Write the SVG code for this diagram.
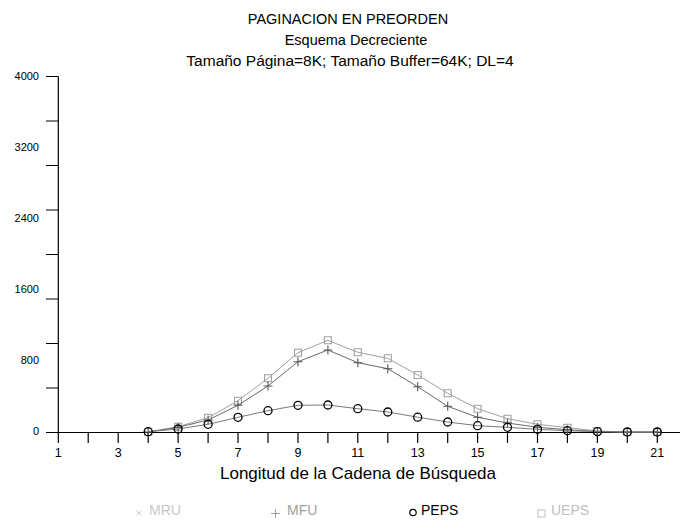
<svg xmlns="http://www.w3.org/2000/svg" xmlns:xlink="http://www.w3.org/1999/xlink" width="680" height="522" viewBox="0 0 680 522">
<style>
text{font-family:"Liberation Sans",Arial,sans-serif;fill:#000}
.ax{stroke:#000;stroke-width:1.2;fill:none}
.yl{font-size:11px;text-anchor:end}
.xl{font-size:12.5px;text-anchor:middle}
.t{text-anchor:middle}
.ueps{stroke:#a0a0a0;stroke-width:1;fill:none}
.mfu{stroke:#6a6a6a;stroke-width:1;fill:none}
.peps{stroke:#7a7a7a;stroke-width:1;fill:none}
.leg{font-size:14px}
</style>
<defs>
<path id="sq" d="M-3.5,-3.5h7v7h-7z" fill="none" stroke="#a0a0a0" stroke-width="1.1"/>
<path id="pl" d="M-4.5,0h9M0,-4.5v9" fill="none" stroke="#555" stroke-width="1.1"/>
<circle id="ci" r="4" fill="none" stroke="#000" stroke-width="1.3"/>
</defs>
<rect width="680" height="522" fill="#fff"/>
<g id="title">
<text class="t" x="348" y="24" font-size="14.5">PAGINACION EN PREORDEN</text>
<text class="t" x="356" y="45" font-size="14.5">Esquema Decreciente</text>
<text class="t" x="350" y="66" font-size="15.5">Tamaño Página=8K; Tamaño Buffer=64K; DL=4</text>
</g>
<g id="axes">
<path class="ax" d="M58.3,76.5V443M46,432.5H680"/>
<path class="ax" d="M46,76.5H58.3M46,121H58.3M46,165.5H58.3M46,210H58.3M46,254.5H58.3M46,299H58.3M46,343.5H58.3M46,388H58.3"/>
<path class="ax" d="M88.2,432.5v10.5M118.2,432.5v10.5M148.2,432.5v10.5M178.1,432.5v10.5M208.1,432.5v10.5M238,432.5v10.5M268,432.5v10.5M298,432.5v10.5M327.9,432.5v10.5M357.8,432.5v10.5M387.8,432.5v10.5M417.7,432.5v10.5M447.7,432.5v10.5M477.6,432.5v10.5M507.5,432.5v10.5M537.5,432.5v10.5M567.4,432.5v10.5M597.4,432.5v10.5M627.3,432.5v10.5M657.3,432.5v10.5"/>
<text class="yl" x="39" y="80">4000</text>
<text class="yl" x="39" y="151">3200</text>
<text class="yl" x="39" y="222">2400</text>
<text class="yl" x="39" y="293">1600</text>
<text class="yl" x="39" y="364">800</text>
<text class="yl" x="39" y="435">0</text>
<text class="xl" x="58.3" y="457">1</text>
<text class="xl" x="118.2" y="457">3</text>
<text class="xl" x="178.1" y="457">5</text>
<text class="xl" x="238" y="457">7</text>
<text class="xl" x="298" y="457">9</text>
<text class="xl" x="357.8" y="457">11</text>
<text class="xl" x="417.7" y="457">13</text>
<text class="xl" x="477.6" y="457">15</text>
<text class="xl" x="537.5" y="457">17</text>
<text class="xl" x="597.4" y="457">19</text>
<text class="xl" x="657.3" y="457">21</text>
<text class="t" x="358" y="479" font-size="17">Longitud de la Cadena de Búsqueda</text>
</g>
<g id="series-ueps">
<polyline class="ueps" points="148.2,432 178.1,426.7 208.1,417.7 238,400.7 268,378.3 298,352.7 327.9,340.3 357.8,352.3 387.8,358.3 417.7,375 447.7,393.3 477.6,408.7 507.5,418.7 537.5,424.3 567.4,427.7 597.4,431 627.3,432 657.3,432"/>
<use xlink:href="#sq" x="148.2" y="432"/><use xlink:href="#sq" x="178.1" y="426.7"/><use xlink:href="#sq" x="208.1" y="417.7"/><use xlink:href="#sq" x="238" y="400.7"/><use xlink:href="#sq" x="268" y="378.3"/><use xlink:href="#sq" x="298" y="352.7"/><use xlink:href="#sq" x="327.9" y="340.3"/><use xlink:href="#sq" x="357.8" y="352.3"/><use xlink:href="#sq" x="387.8" y="358.3"/><use xlink:href="#sq" x="417.7" y="375"/><use xlink:href="#sq" x="447.7" y="393.3"/><use xlink:href="#sq" x="477.6" y="408.7"/><use xlink:href="#sq" x="507.5" y="418.7"/><use xlink:href="#sq" x="537.5" y="424.3"/><use xlink:href="#sq" x="567.4" y="427.7"/><use xlink:href="#sq" x="597.4" y="431"/><use xlink:href="#sq" x="627.3" y="432"/><use xlink:href="#sq" x="657.3" y="432"/>
</g>
<g id="series-mfu">
<polyline class="mfu" points="148.2,432 178.1,427.3 208.1,420 238,405.3 268,386 298,361.7 327.9,350 357.8,362.7 387.8,368.7 417.7,386.7 447.7,406.3 477.6,417.3 507.5,423 537.5,427.3 567.4,429.7 597.4,431.5 627.3,432 657.3,432"/>
<use xlink:href="#pl" x="148.2" y="432"/><use xlink:href="#pl" x="178.1" y="427.3"/><use xlink:href="#pl" x="208.1" y="420"/><use xlink:href="#pl" x="238" y="405.3"/><use xlink:href="#pl" x="268" y="386"/><use xlink:href="#pl" x="298" y="361.7"/><use xlink:href="#pl" x="327.9" y="350"/><use xlink:href="#pl" x="357.8" y="362.7"/><use xlink:href="#pl" x="387.8" y="368.7"/><use xlink:href="#pl" x="417.7" y="386.7"/><use xlink:href="#pl" x="447.7" y="406.3"/><use xlink:href="#pl" x="477.6" y="417.3"/><use xlink:href="#pl" x="507.5" y="423"/><use xlink:href="#pl" x="537.5" y="427.3"/><use xlink:href="#pl" x="567.4" y="429.7"/><use xlink:href="#pl" x="597.4" y="431.5"/><use xlink:href="#pl" x="627.3" y="432"/><use xlink:href="#pl" x="657.3" y="432"/>
</g>
<g id="series-peps">
<polyline class="peps" points="148.2,431.7 178.1,429 208.1,424.3 238,417.3 268,410.7 298,405.3 327.9,405 357.8,408.7 387.8,412 417.7,417.2 447.7,422 477.6,425.7 507.5,427.3 537.5,429.3 567.4,430.7 597.4,431.7 627.3,432 657.3,432"/>
<use xlink:href="#ci" x="148.2" y="431.7"/><use xlink:href="#ci" x="178.1" y="429"/><use xlink:href="#ci" x="208.1" y="424.3"/><use xlink:href="#ci" x="238" y="417.3"/><use xlink:href="#ci" x="268" y="410.7"/><use xlink:href="#ci" x="298" y="405.3"/><use xlink:href="#ci" x="327.9" y="405"/><use xlink:href="#ci" x="357.8" y="408.7"/><use xlink:href="#ci" x="387.8" y="412"/><use xlink:href="#ci" x="417.7" y="417.2"/><use xlink:href="#ci" x="447.7" y="422"/><use xlink:href="#ci" x="477.6" y="425.7"/><use xlink:href="#ci" x="507.5" y="427.3"/><use xlink:href="#ci" x="537.5" y="429.3"/><use xlink:href="#ci" x="567.4" y="430.7"/><use xlink:href="#ci" x="597.4" y="431.7"/><use xlink:href="#ci" x="627.3" y="432"/><use xlink:href="#ci" x="657.3" y="432"/>
</g>
<g id="legend">
<path d="M136.5,510.5l5,5M141.5,510.5l-5,5" stroke="#c8c8c8" stroke-width="1"/>
<text class="leg" x="149" y="515" fill="#c8c8c8" style="fill:#c8c8c8">MRU</text>
<path d="M271,513.5h9M275.5,509v9" stroke="#a0a0a0" stroke-width="1"/>
<text class="leg" x="287" y="515" style="fill:#a0a0a0">MFU</text>
<circle cx="413" cy="512.5" r="3.2" fill="none" stroke="#000" stroke-width="1.2"/>
<text class="leg" x="421" y="515">PEPS</text>
<rect x="538" y="510" width="7" height="7" fill="none" stroke="#c0c0c0" stroke-width="1"/>
<text class="leg" x="551" y="515" style="fill:#c0c0c0">UEPS</text>
</g>
</svg>
